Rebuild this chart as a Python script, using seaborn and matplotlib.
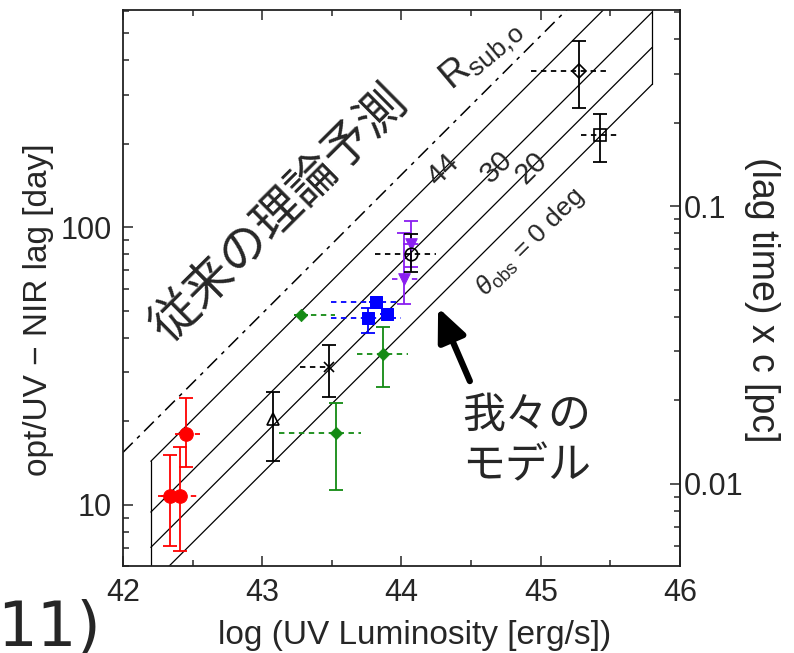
import numpy as np
import pandas as pd
import matplotlib
matplotlib.use("Agg")
import matplotlib.pyplot as plt
import matplotlib.ticker as mticker
import seaborn as sns

# ---------------- data ----------------
# model lines: log10(lag [day]) at log L = 42, slope 0.5
theta_labels = ["0", "20", "30", "44"]
theta_log_lag_at42 = [0.614, 0.747, 0.874, 1.057]
rsub_log_lag_at42 = 1.189
model_slope = 0.5
model_x_range = [42.2, 45.8]
label_x = [44.297, 44.682, 44.934]   # positions of 44, 30, 20 labels along lines

red_x = [42.34, 42.41, 42.45]
red_y = [10.8, 10.8, 18.0]
red_ylo = [7.1, 6.8, 13.7]
red_yhi = [15.1, 16.2, 24.3]
red_xlo = [42.25, 42.27, 42.37]
red_xhi = [42.43, 42.55, 42.55]

green_x = [43.28, 43.528, 43.868]
green_y = [48.2, 18.2, 34.8]
green_ylo = [48.2, 11.3, 26.5]
green_yhi = [48.2, 23.3, 43.6]
green_xlo = [43.28, 43.12, 43.677]
green_xhi = [43.52, 43.71, 44.047]

blue_x = [43.815, 43.76, 43.897]
blue_y = [53.7, 47.2, 48.5]
blue_ylo = [53.7, 41.7, 48.5]
blue_yhi = [53.7, 51.3, 48.5]
blue_xlo = [43.497, 43.497, 43.897]
blue_xhi = [43.99, 44.0, 43.897]

purple_x = [44.065, 44.019]
purple_y = [86.8, 64.9]
purple_ylo = [72.0, 52.7]
purple_yhi = [104.9, 94.9]
purple_xlo = [44.01, 43.93]
purple_xhi = [44.13, 44.13]

# black open symbols: triangle, cross, circle, diamond, square
black_marker = ["^", "x", "o", "D", "s"]
black_x = [43.077, 43.48, 44.065, 45.274, 45.425]
black_y = [20.3, 31.4, 79.9, 366.0, 215.0]
black_ylo = [14.4, 24.5, 69.0, 268.0, 171.0]
black_yhi = [25.4, 37.6, 94.3, 467.0, 256.0]
black_xlo = [43.077, 43.27, 43.81, 44.93, 45.288]
black_xhi = [43.077, 43.48, 44.246, 45.477, 45.545]

x_ticks = [42, 43, 44, 45, 46]
pc_ticks = [0.01, 0.1]
DAY_TO_PC = 0.000841

# ---------------- style ----------------
sns.set_theme(style="ticks")
plt.rcParams["font.family"] = ["Liberation Sans", "DejaVu Sans"]
plt.rcParams["mathtext.fontset"] = "custom"
plt.rcParams["mathtext.rm"] = "Liberation Sans"
plt.rcParams["mathtext.it"] = "Liberation Sans:italic"
plt.rcParams["mathtext.bf"] = "Liberation Sans:bold"

fig = plt.figure(figsize=(7.94, 6.53), dpi=100)
ax = fig.add_axes([0.1549, 0.1325, 0.7015, 0.8522])
ax.set_yscale("log")
ax.set_xlim(42, 46)
ax.set_ylim(6.0, 605)

JP = ["Noto Sans CJK JP", "DejaVu Sans"]

# ---------------- model lines ----------------
xs = np.linspace(model_x_range[0], model_x_range[1], 200)
gap = 0.16
for i, a in enumerate(theta_log_lag_at42):
    yy = 10 ** (a + model_slope * (xs - 42))
    if i > 0:
        lx = label_x[3 - i]
        yy[(xs > lx - gap) & (xs < lx + gap)] = np.nan
    df = pd.DataFrame({"x": xs, "y": yy})
    sns.lineplot(data=df, x="x", y="y", ax=ax, color="black", lw=0.9,
                 sort=False, estimator=None)
# vertical edges of model box
for xe in model_x_range:
    ye = [10 ** (theta_log_lag_at42[0] + model_slope * (xe - 42)),
          10 ** (theta_log_lag_at42[-1] + model_slope * (xe - 42))]
    sns.lineplot(x=[xe, xe], y=ye, ax=ax, color="black", lw=0.9,
                 sort=False, estimator=None)

xr = np.linspace(42, 46, 200)
ax.plot(xr, 10 ** (rsub_log_lag_at42 + model_slope * (xr - 42)), color="black",
        lw=1.1, dashes=(9, 4, 2.5, 4))

# ---------------- data points ----------------
def errs(x, y, xlo, xhi, ylo, yhi, color):
    x = np.array(x); y = np.array(y)
    yerr = [y - np.array(ylo), np.array(yhi) - y]
    xerr = [x - np.array(xlo), np.array(xhi) - x]
    ax.errorbar(x, y, yerr=yerr, fmt="none", ecolor=color, elinewidth=1.3,
                capsize=5, capthick=1.3, zorder=3)
    eb = ax.errorbar(x, y, xerr=xerr, fmt="none", ecolor=color, elinewidth=1.3,
                     capsize=0, zorder=3)
    eb[2][0].set_linestyle((0, (3, 2.5)))

errs(red_x, red_y, red_xlo, red_xhi, red_ylo, red_yhi, "#ff0000")
errs(green_x, green_y, green_xlo, green_xhi, green_ylo, green_yhi, "#138a13")
errs(blue_x, blue_y, blue_xlo, blue_xhi, blue_ylo, blue_yhi, "#0000ff")
errs(purple_x, purple_y, purple_xlo, purple_xhi, purple_ylo, purple_yhi, "#8a1ef0")
errs(black_x, black_y, black_xlo, black_xhi, black_ylo, black_yhi, "black")

sns.scatterplot(x=red_x, y=red_y, ax=ax, marker="o", s=95, color="#ff0000",
                edgecolor="#ff0000", zorder=4)
sns.scatterplot(x=green_x, y=green_y, ax=ax, marker="D", s=40, color="#138a13",
                edgecolor="#138a13", zorder=4)
sns.scatterplot(x=blue_x, y=blue_y, ax=ax, marker="s", s=80, color="#0000ff",
                edgecolor="#0000ff", zorder=4)
sns.scatterplot(x=purple_x, y=purple_y, ax=ax, marker="v", s=70, color="#8a1ef0",
                edgecolor="#8a1ef0", zorder=4)
for m, x, y in zip(black_marker, black_x, black_y):
    ms = {"^": 9, "x": 6.5, "o": 9, "D": 7, "s": 9}[m]
    ax.plot([x], [y], marker=m, ms=ms, mfc="none", mec="black", mew=1.2,
            ls="none", zorder=4)

# ---------------- annotations ----------------
ax.text(43.126, 111, "従来の理論予測", family=JP, fontsize=35, rotation=44.8,
        ha="center", va="center", rotation_mode="anchor")
ax.text(44.575, 418, r"R$_{\mathrm{sub{,}o}}$", fontsize=27, rotation=40,
        ha="center", va="center", rotation_mode="anchor")
for lx, lab in zip(label_x, ["44", "30", "20"]):
    y_on = 10 ** (theta_log_lag_at42[{"44": 3, "30": 2, "20": 1}[lab]]
                  + model_slope * (lx - 42))
    ax.text(lx, y_on, lab, fontsize=21, rotation=44.8, ha="center",
            va="center", rotation_mode="anchor")
ax.text(44.927, 88.1, r"$\theta_{\mathrm{obs}}$ = 0 deg", fontsize=19,
        rotation=44.8, ha="center", va="center", rotation_mode="anchor")
ax.text(44.433, 17.0, "我々の\nモデル", family=JP, fontsize=31, ha="left",
        va="center", linespacing=1.2)
ax.annotate("", xy=(44.263, 51.3), xytext=(44.491, 27.9),
            arrowprops=dict(arrowstyle="-|>,head_length=0.9,head_width=0.4",
                            lw=4.5, color="black", mutation_scale=22,
                            shrinkA=0, shrinkB=0))

# ---------------- axes ----------------
ax.set_xticks(x_ticks)
ax.xaxis.set_minor_locator(mticker.MultipleLocator(0.5))
ax.yaxis.set_major_formatter(mticker.FuncFormatter(lambda v, p: f"{v:g}"))
ax.yaxis.set_minor_formatter(mticker.NullFormatter())
ax.tick_params(which="both", direction="in", top=True, right=False,
               labelsize=22, width=1.1, pad=8)
ax.tick_params(which="major", length=7)
ax.tick_params(which="minor", length=4.5)
for sp in ax.spines.values():
    sp.set_linewidth(1.3)
    sp.set_color("#222222")
ax.set_xlabel("log (UV Luminosity [erg/s])", fontsize=24, labelpad=9, x=0.523)
ax.set_ylabel("opt/UV − NIR lag [day]", fontsize=24, labelpad=5, y=0.462)

sec = ax.secondary_yaxis("right", functions=(lambda d: d * DAY_TO_PC,
                                             lambda p: p / DAY_TO_PC))
sec.yaxis.set_major_locator(mticker.FixedLocator(pc_ticks))
sec.yaxis.set_minor_locator(mticker.FixedLocator(
    [m * 10.0 ** e for e in (-3, -2, -1) for m in range(2, 10)]))
sec.yaxis.set_major_formatter(mticker.FuncFormatter(lambda v, p: f"{v:g}"))
sec.yaxis.set_minor_formatter(mticker.NullFormatter())
sec.tick_params(which="both", direction="in", labelsize=22, width=1.1, pad=3)
sec.tick_params(which="major", length=7)
sec.tick_params(which="minor", length=4.5)
sec.set_ylabel("(lag time) x c [pc]", fontsize=27, rotation=270, labelpad=26,
               y=0.48)

fig.text(-0.004, 0.012, "11)", fontsize=45, family="DejaVu Sans",
         ha="left", va="baseline")

fig.savefig("out.png", dpi=100)
